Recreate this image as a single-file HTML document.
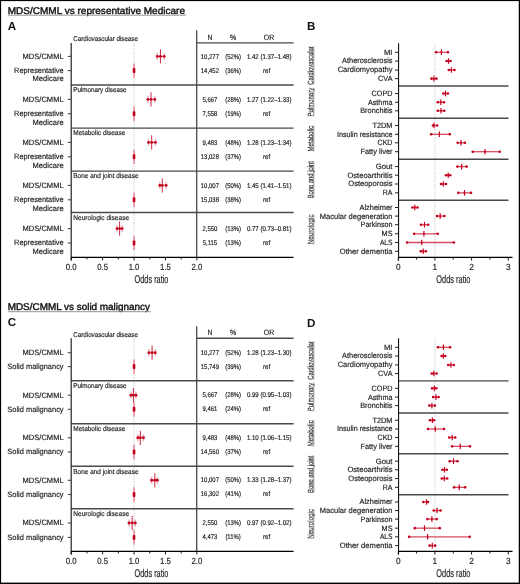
<!DOCTYPE html>
<html><head><meta charset="utf-8"><style>
html,body{margin:0;padding:0;background:#fff;}
svg{display:block;will-change:transform;}
text{font-family:'Liberation Sans', sans-serif;text-rendering:geometricPrecision;}
</style></head><body>
<svg width="520" height="584" viewBox="0 0 520 584">
<rect x="0" y="0" width="520" height="584" fill="#fff"/>
<text x="7.70" y="13.90" font-size="9.8" textLength="177.30" lengthAdjust="spacingAndGlyphs" fill="#111" stroke="#111" stroke-width="0.4">MDS/CMML vs representative Medicare</text>
<line x1="7.70" y1="15.20" x2="185.80" y2="15.20" stroke="#8a8a8a" stroke-width="0.9"/>
<text x="7.80" y="30.20" font-size="11.6" font-weight="bold" fill="#111">A</text>
<line x1="134.05" y1="42.90" x2="134.05" y2="257.20" stroke="#e3e3e3" stroke-width="1.5" stroke-dasharray="1.7 0.9"/>
<line x1="71.00" y1="85.00" x2="293.60" y2="85.00" stroke="#4a4a4a" stroke-width="1.4"/>
<line x1="71.00" y1="128.10" x2="293.60" y2="128.10" stroke="#4a4a4a" stroke-width="1.4"/>
<line x1="71.00" y1="171.10" x2="293.60" y2="171.10" stroke="#4a4a4a" stroke-width="1.4"/>
<line x1="71.00" y1="212.50" x2="293.60" y2="212.50" stroke="#4a4a4a" stroke-width="1.4"/>
<line x1="196.70" y1="42.90" x2="293.60" y2="42.90" stroke="#4a4a4a" stroke-width="1.4"/>
<line x1="196.70" y1="30.30" x2="196.70" y2="257.20" stroke="#4a4a4a" stroke-width="1.3"/>
<line x1="71.20" y1="42.90" x2="71.20" y2="260.40" stroke="#222" stroke-width="1.2"/>
<line x1="71.00" y1="257.30" x2="293.60" y2="257.30" stroke="#000" stroke-width="1.25"/>
<line x1="71.20" y1="257.20" x2="71.20" y2="260.40" stroke="#1a1a1a" stroke-width="1.0"/>
<line x1="86.91" y1="257.20" x2="86.91" y2="259.40" stroke="#1a1a1a" stroke-width="1.0"/>
<line x1="102.62" y1="257.20" x2="102.62" y2="260.40" stroke="#1a1a1a" stroke-width="1.0"/>
<line x1="118.34" y1="257.20" x2="118.34" y2="259.40" stroke="#1a1a1a" stroke-width="1.0"/>
<line x1="134.05" y1="257.20" x2="134.05" y2="260.40" stroke="#1a1a1a" stroke-width="1.0"/>
<line x1="149.76" y1="257.20" x2="149.76" y2="259.40" stroke="#1a1a1a" stroke-width="1.0"/>
<line x1="165.48" y1="257.20" x2="165.48" y2="260.40" stroke="#1a1a1a" stroke-width="1.0"/>
<line x1="181.19" y1="257.20" x2="181.19" y2="259.40" stroke="#1a1a1a" stroke-width="1.0"/>
<line x1="196.90" y1="257.20" x2="196.90" y2="260.40" stroke="#1a1a1a" stroke-width="1.0"/>
<text x="71.20" y="269.50" font-size="8.8" text-anchor="middle" textLength="10.80" lengthAdjust="spacingAndGlyphs" fill="#1e1e1e" stroke="#1e1e1e" stroke-width="0.17">0.0</text>
<text x="102.62" y="269.50" font-size="8.8" text-anchor="middle" textLength="10.80" lengthAdjust="spacingAndGlyphs" fill="#1e1e1e" stroke="#1e1e1e" stroke-width="0.17">0.5</text>
<text x="134.05" y="269.50" font-size="8.8" text-anchor="middle" textLength="10.80" lengthAdjust="spacingAndGlyphs" fill="#1e1e1e" stroke="#1e1e1e" stroke-width="0.17">1.0</text>
<text x="165.48" y="269.50" font-size="8.8" text-anchor="middle" textLength="10.80" lengthAdjust="spacingAndGlyphs" fill="#1e1e1e" stroke="#1e1e1e" stroke-width="0.17">1.5</text>
<text x="196.90" y="269.50" font-size="8.8" text-anchor="middle" textLength="10.80" lengthAdjust="spacingAndGlyphs" fill="#1e1e1e" stroke="#1e1e1e" stroke-width="0.17">2.0</text>
<text x="151.50" y="283.00" font-size="11.2" text-anchor="middle" textLength="33.80" lengthAdjust="spacingAndGlyphs" fill="#1e1e1e" stroke="#1e1e1e" stroke-width="0.17">Odds ratio</text>
<text x="209.85" y="39.60" font-size="7.7" text-anchor="middle" textLength="4.90" lengthAdjust="spacingAndGlyphs" fill="#1e1e1e" stroke="#1e1e1e" stroke-width="0.17">N</text>
<text x="233.10" y="39.60" font-size="7.7" text-anchor="middle" textLength="6.20" lengthAdjust="spacingAndGlyphs" fill="#1e1e1e" stroke="#1e1e1e" stroke-width="0.17">%</text>
<text x="269.00" y="39.60" font-size="7.7" text-anchor="middle" textLength="10.40" lengthAdjust="spacingAndGlyphs" fill="#1e1e1e" stroke="#1e1e1e" stroke-width="0.17">OR</text>
<text x="73.30" y="41.10" font-size="7.0" textLength="64.60" lengthAdjust="spacingAndGlyphs" fill="#1e1e1e" stroke="#1e1e1e" stroke-width="0.17">Cardiovascular disease</text>
<text x="73.30" y="92.40" font-size="7.0" textLength="53.20" lengthAdjust="spacingAndGlyphs" fill="#1e1e1e" stroke="#1e1e1e" stroke-width="0.17">Pulmonary disease</text>
<text x="73.30" y="135.30" font-size="7.0" textLength="52.00" lengthAdjust="spacingAndGlyphs" fill="#1e1e1e" stroke="#1e1e1e" stroke-width="0.17">Metabolic disease</text>
<text x="73.30" y="178.30" font-size="7.0" textLength="65.20" lengthAdjust="spacingAndGlyphs" fill="#1e1e1e" stroke="#1e1e1e" stroke-width="0.17">Bone and joint disease</text>
<text x="73.30" y="219.90" font-size="7.0" textLength="55.80" lengthAdjust="spacingAndGlyphs" fill="#1e1e1e" stroke="#1e1e1e" stroke-width="0.17">Neurologic disease</text>
<line x1="67.80" y1="56.40" x2="71.25" y2="56.40" stroke="#4a4a4a" stroke-width="1.1"/>
<text x="63.60" y="58.70" font-size="7.7" text-anchor="end" textLength="41.00" lengthAdjust="spacingAndGlyphs" fill="#1e1e1e" stroke="#1e1e1e" stroke-width="0.17">MDS/CMML</text>
<text x="209.90" y="58.60" font-size="6.8" text-anchor="middle" textLength="18.20" lengthAdjust="spacingAndGlyphs" fill="#1e1e1e" stroke="#1e1e1e" stroke-width="0.17">10,277</text>
<text x="233.10" y="58.60" font-size="6.8" text-anchor="middle" textLength="15.87" lengthAdjust="spacingAndGlyphs" fill="#1e1e1e" stroke="#1e1e1e" stroke-width="0.17">(52%)</text>
<text x="269.20" y="58.60" font-size="6.8" text-anchor="middle" textLength="44.62" lengthAdjust="spacingAndGlyphs" fill="#1e1e1e" stroke="#1e1e1e" stroke-width="0.17">1.42 (1.37–1.48)</text>
<line x1="157.30" y1="56.40" x2="164.22" y2="56.40" stroke="#c4001f" stroke-width="0.95" stroke-opacity="0.75"/>
<line x1="157.30" y1="52.80" x2="157.30" y2="60.00" stroke="#c4001f" stroke-width="1.4" stroke-opacity="0.3"/>
<circle cx="157.30" cy="56.40" r="1.45" fill="#c4001f"/>
<line x1="164.22" y1="52.80" x2="164.22" y2="60.00" stroke="#c4001f" stroke-width="1.4" stroke-opacity="0.3"/>
<circle cx="164.22" cy="56.40" r="1.45" fill="#c4001f"/>
<line x1="160.45" y1="49.30" x2="160.45" y2="63.50" stroke="#c4001f" stroke-width="1.05" stroke-opacity="0.8"/>
<circle cx="160.45" cy="56.40" r="1.45" fill="#c4001f"/>
<line x1="67.80" y1="70.60" x2="71.25" y2="70.60" stroke="#4a4a4a" stroke-width="1.1"/>
<text x="63.60" y="72.80" font-size="7.7" text-anchor="end" textLength="49.50" lengthAdjust="spacingAndGlyphs" fill="#1e1e1e" stroke="#1e1e1e" stroke-width="0.17">Representative</text>
<text x="63.60" y="81.40" font-size="7.7" text-anchor="end" textLength="31.00" lengthAdjust="spacingAndGlyphs" fill="#1e1e1e" stroke="#1e1e1e" stroke-width="0.17">Medicare</text>
<text x="209.90" y="72.80" font-size="6.8" text-anchor="middle" textLength="18.20" lengthAdjust="spacingAndGlyphs" fill="#1e1e1e" stroke="#1e1e1e" stroke-width="0.17">14,452</text>
<text x="233.10" y="72.80" font-size="6.8" text-anchor="middle" textLength="15.87" lengthAdjust="spacingAndGlyphs" fill="#1e1e1e" stroke="#1e1e1e" stroke-width="0.17">(36%)</text>
<text x="266.60" y="72.80" font-size="6.8" text-anchor="middle" textLength="7.18" lengthAdjust="spacingAndGlyphs" fill="#1e1e1e" stroke="#1e1e1e" stroke-width="0.17">ref</text>
<line x1="134.05" y1="63.40" x2="134.05" y2="77.80" stroke="#e27489" stroke-width="1.3"/>
<rect x="132.75" y="68.10" width="2.6" height="5" rx="0.8" fill="#c4001f"/>
<line x1="67.80" y1="99.40" x2="71.25" y2="99.40" stroke="#4a4a4a" stroke-width="1.1"/>
<text x="63.60" y="101.70" font-size="7.7" text-anchor="end" textLength="41.00" lengthAdjust="spacingAndGlyphs" fill="#1e1e1e" stroke="#1e1e1e" stroke-width="0.17">MDS/CMML</text>
<text x="209.90" y="101.60" font-size="6.8" text-anchor="middle" textLength="14.89" lengthAdjust="spacingAndGlyphs" fill="#1e1e1e" stroke="#1e1e1e" stroke-width="0.17">5,667</text>
<text x="233.10" y="101.60" font-size="6.8" text-anchor="middle" textLength="15.87" lengthAdjust="spacingAndGlyphs" fill="#1e1e1e" stroke="#1e1e1e" stroke-width="0.17">(28%)</text>
<text x="269.20" y="101.60" font-size="6.8" text-anchor="middle" textLength="44.62" lengthAdjust="spacingAndGlyphs" fill="#1e1e1e" stroke="#1e1e1e" stroke-width="0.17">1.27 (1.22–1.33)</text>
<line x1="147.88" y1="99.40" x2="154.79" y2="99.40" stroke="#c4001f" stroke-width="0.95" stroke-opacity="0.75"/>
<line x1="147.88" y1="95.80" x2="147.88" y2="103.00" stroke="#c4001f" stroke-width="1.4" stroke-opacity="0.3"/>
<circle cx="147.88" cy="99.40" r="1.45" fill="#c4001f"/>
<line x1="154.79" y1="95.80" x2="154.79" y2="103.00" stroke="#c4001f" stroke-width="1.4" stroke-opacity="0.3"/>
<circle cx="154.79" cy="99.40" r="1.45" fill="#c4001f"/>
<line x1="151.02" y1="92.30" x2="151.02" y2="106.50" stroke="#c4001f" stroke-width="1.05" stroke-opacity="0.8"/>
<circle cx="151.02" cy="99.40" r="1.45" fill="#c4001f"/>
<line x1="67.80" y1="113.70" x2="71.25" y2="113.70" stroke="#4a4a4a" stroke-width="1.1"/>
<text x="63.60" y="115.90" font-size="7.7" text-anchor="end" textLength="49.50" lengthAdjust="spacingAndGlyphs" fill="#1e1e1e" stroke="#1e1e1e" stroke-width="0.17">Representative</text>
<text x="63.60" y="124.50" font-size="7.7" text-anchor="end" textLength="31.00" lengthAdjust="spacingAndGlyphs" fill="#1e1e1e" stroke="#1e1e1e" stroke-width="0.17">Medicare</text>
<text x="209.90" y="115.90" font-size="6.8" text-anchor="middle" textLength="14.89" lengthAdjust="spacingAndGlyphs" fill="#1e1e1e" stroke="#1e1e1e" stroke-width="0.17">7,558</text>
<text x="233.10" y="115.90" font-size="6.8" text-anchor="middle" textLength="15.87" lengthAdjust="spacingAndGlyphs" fill="#1e1e1e" stroke="#1e1e1e" stroke-width="0.17">(19%)</text>
<text x="266.60" y="115.90" font-size="6.8" text-anchor="middle" textLength="7.18" lengthAdjust="spacingAndGlyphs" fill="#1e1e1e" stroke="#1e1e1e" stroke-width="0.17">ref</text>
<line x1="134.05" y1="106.50" x2="134.05" y2="120.90" stroke="#e27489" stroke-width="1.3"/>
<rect x="132.75" y="111.20" width="2.6" height="5" rx="0.8" fill="#c4001f"/>
<line x1="67.80" y1="142.40" x2="71.25" y2="142.40" stroke="#4a4a4a" stroke-width="1.1"/>
<text x="63.60" y="144.70" font-size="7.7" text-anchor="end" textLength="41.00" lengthAdjust="spacingAndGlyphs" fill="#1e1e1e" stroke="#1e1e1e" stroke-width="0.17">MDS/CMML</text>
<text x="209.90" y="144.60" font-size="6.8" text-anchor="middle" textLength="14.89" lengthAdjust="spacingAndGlyphs" fill="#1e1e1e" stroke="#1e1e1e" stroke-width="0.17">9,483</text>
<text x="233.10" y="144.60" font-size="6.8" text-anchor="middle" textLength="15.87" lengthAdjust="spacingAndGlyphs" fill="#1e1e1e" stroke="#1e1e1e" stroke-width="0.17">(48%)</text>
<text x="269.20" y="144.60" font-size="6.8" text-anchor="middle" textLength="44.62" lengthAdjust="spacingAndGlyphs" fill="#1e1e1e" stroke="#1e1e1e" stroke-width="0.17">1.28 (1.23–1.34)</text>
<line x1="148.51" y1="142.40" x2="155.42" y2="142.40" stroke="#c4001f" stroke-width="0.95" stroke-opacity="0.75"/>
<line x1="148.51" y1="138.80" x2="148.51" y2="146.00" stroke="#c4001f" stroke-width="1.4" stroke-opacity="0.3"/>
<circle cx="148.51" cy="142.40" r="1.45" fill="#c4001f"/>
<line x1="155.42" y1="138.80" x2="155.42" y2="146.00" stroke="#c4001f" stroke-width="1.4" stroke-opacity="0.3"/>
<circle cx="155.42" cy="142.40" r="1.45" fill="#c4001f"/>
<line x1="151.65" y1="135.30" x2="151.65" y2="149.50" stroke="#c4001f" stroke-width="1.05" stroke-opacity="0.8"/>
<circle cx="151.65" cy="142.40" r="1.45" fill="#c4001f"/>
<line x1="67.80" y1="156.80" x2="71.25" y2="156.80" stroke="#4a4a4a" stroke-width="1.1"/>
<text x="63.60" y="159.00" font-size="7.7" text-anchor="end" textLength="49.50" lengthAdjust="spacingAndGlyphs" fill="#1e1e1e" stroke="#1e1e1e" stroke-width="0.17">Representative</text>
<text x="63.60" y="167.60" font-size="7.7" text-anchor="end" textLength="31.00" lengthAdjust="spacingAndGlyphs" fill="#1e1e1e" stroke="#1e1e1e" stroke-width="0.17">Medicare</text>
<text x="209.90" y="159.00" font-size="6.8" text-anchor="middle" textLength="18.20" lengthAdjust="spacingAndGlyphs" fill="#1e1e1e" stroke="#1e1e1e" stroke-width="0.17">13,028</text>
<text x="233.10" y="159.00" font-size="6.8" text-anchor="middle" textLength="15.87" lengthAdjust="spacingAndGlyphs" fill="#1e1e1e" stroke="#1e1e1e" stroke-width="0.17">(37%)</text>
<text x="266.60" y="159.00" font-size="6.8" text-anchor="middle" textLength="7.18" lengthAdjust="spacingAndGlyphs" fill="#1e1e1e" stroke="#1e1e1e" stroke-width="0.17">ref</text>
<line x1="134.05" y1="149.60" x2="134.05" y2="164.00" stroke="#e27489" stroke-width="1.3"/>
<rect x="132.75" y="154.30" width="2.6" height="5" rx="0.8" fill="#c4001f"/>
<line x1="67.80" y1="185.40" x2="71.25" y2="185.40" stroke="#4a4a4a" stroke-width="1.1"/>
<text x="63.60" y="187.70" font-size="7.7" text-anchor="end" textLength="41.00" lengthAdjust="spacingAndGlyphs" fill="#1e1e1e" stroke="#1e1e1e" stroke-width="0.17">MDS/CMML</text>
<text x="209.90" y="187.60" font-size="6.8" text-anchor="middle" textLength="18.20" lengthAdjust="spacingAndGlyphs" fill="#1e1e1e" stroke="#1e1e1e" stroke-width="0.17">10,007</text>
<text x="233.10" y="187.60" font-size="6.8" text-anchor="middle" textLength="15.87" lengthAdjust="spacingAndGlyphs" fill="#1e1e1e" stroke="#1e1e1e" stroke-width="0.17">(50%)</text>
<text x="269.20" y="187.60" font-size="6.8" text-anchor="middle" textLength="44.62" lengthAdjust="spacingAndGlyphs" fill="#1e1e1e" stroke="#1e1e1e" stroke-width="0.17">1.45 (1.41–1.51)</text>
<line x1="159.82" y1="185.40" x2="166.10" y2="185.40" stroke="#c4001f" stroke-width="0.95" stroke-opacity="0.75"/>
<line x1="159.82" y1="181.80" x2="159.82" y2="189.00" stroke="#c4001f" stroke-width="1.4" stroke-opacity="0.3"/>
<circle cx="159.82" cy="185.40" r="1.45" fill="#c4001f"/>
<line x1="166.10" y1="181.80" x2="166.10" y2="189.00" stroke="#c4001f" stroke-width="1.4" stroke-opacity="0.3"/>
<circle cx="166.10" cy="185.40" r="1.45" fill="#c4001f"/>
<line x1="162.33" y1="178.30" x2="162.33" y2="192.50" stroke="#c4001f" stroke-width="1.05" stroke-opacity="0.8"/>
<circle cx="162.33" cy="185.40" r="1.45" fill="#c4001f"/>
<line x1="67.80" y1="199.80" x2="71.25" y2="199.80" stroke="#4a4a4a" stroke-width="1.1"/>
<text x="63.60" y="202.00" font-size="7.7" text-anchor="end" textLength="49.50" lengthAdjust="spacingAndGlyphs" fill="#1e1e1e" stroke="#1e1e1e" stroke-width="0.17">Representative</text>
<text x="63.60" y="210.60" font-size="7.7" text-anchor="end" textLength="31.00" lengthAdjust="spacingAndGlyphs" fill="#1e1e1e" stroke="#1e1e1e" stroke-width="0.17">Medicare</text>
<text x="209.90" y="202.00" font-size="6.8" text-anchor="middle" textLength="18.20" lengthAdjust="spacingAndGlyphs" fill="#1e1e1e" stroke="#1e1e1e" stroke-width="0.17">15,038</text>
<text x="233.10" y="202.00" font-size="6.8" text-anchor="middle" textLength="15.87" lengthAdjust="spacingAndGlyphs" fill="#1e1e1e" stroke="#1e1e1e" stroke-width="0.17">(38%)</text>
<text x="266.60" y="202.00" font-size="6.8" text-anchor="middle" textLength="7.18" lengthAdjust="spacingAndGlyphs" fill="#1e1e1e" stroke="#1e1e1e" stroke-width="0.17">ref</text>
<line x1="134.05" y1="192.60" x2="134.05" y2="207.00" stroke="#e27489" stroke-width="1.3"/>
<rect x="132.75" y="197.30" width="2.6" height="5" rx="0.8" fill="#c4001f"/>
<line x1="67.80" y1="228.60" x2="71.25" y2="228.60" stroke="#4a4a4a" stroke-width="1.1"/>
<text x="63.60" y="230.90" font-size="7.7" text-anchor="end" textLength="41.00" lengthAdjust="spacingAndGlyphs" fill="#1e1e1e" stroke="#1e1e1e" stroke-width="0.17">MDS/CMML</text>
<text x="209.90" y="230.80" font-size="6.8" text-anchor="middle" textLength="14.89" lengthAdjust="spacingAndGlyphs" fill="#1e1e1e" stroke="#1e1e1e" stroke-width="0.17">2,550</text>
<text x="233.10" y="230.80" font-size="6.8" text-anchor="middle" textLength="15.87" lengthAdjust="spacingAndGlyphs" fill="#1e1e1e" stroke="#1e1e1e" stroke-width="0.17">(13%)</text>
<text x="269.20" y="230.80" font-size="6.8" text-anchor="middle" textLength="44.62" lengthAdjust="spacingAndGlyphs" fill="#1e1e1e" stroke="#1e1e1e" stroke-width="0.17">0.77 (0.73–0.81)</text>
<line x1="117.08" y1="228.60" x2="122.11" y2="228.60" stroke="#c4001f" stroke-width="0.95" stroke-opacity="0.75"/>
<line x1="117.08" y1="225.00" x2="117.08" y2="232.20" stroke="#c4001f" stroke-width="1.4" stroke-opacity="0.3"/>
<circle cx="117.08" cy="228.60" r="1.45" fill="#c4001f"/>
<line x1="122.11" y1="225.00" x2="122.11" y2="232.20" stroke="#c4001f" stroke-width="1.4" stroke-opacity="0.3"/>
<circle cx="122.11" cy="228.60" r="1.45" fill="#c4001f"/>
<line x1="119.59" y1="221.50" x2="119.59" y2="235.70" stroke="#c4001f" stroke-width="1.05" stroke-opacity="0.8"/>
<circle cx="119.59" cy="228.60" r="1.45" fill="#c4001f"/>
<line x1="67.80" y1="243.00" x2="71.25" y2="243.00" stroke="#4a4a4a" stroke-width="1.1"/>
<text x="63.60" y="245.20" font-size="7.7" text-anchor="end" textLength="49.50" lengthAdjust="spacingAndGlyphs" fill="#1e1e1e" stroke="#1e1e1e" stroke-width="0.17">Representative</text>
<text x="63.60" y="253.80" font-size="7.7" text-anchor="end" textLength="31.00" lengthAdjust="spacingAndGlyphs" fill="#1e1e1e" stroke="#1e1e1e" stroke-width="0.17">Medicare</text>
<text x="209.90" y="245.20" font-size="6.8" text-anchor="middle" textLength="14.45" lengthAdjust="spacingAndGlyphs" fill="#1e1e1e" stroke="#1e1e1e" stroke-width="0.17">5,115</text>
<text x="233.10" y="245.20" font-size="6.8" text-anchor="middle" textLength="15.87" lengthAdjust="spacingAndGlyphs" fill="#1e1e1e" stroke="#1e1e1e" stroke-width="0.17">(13%)</text>
<text x="266.60" y="245.20" font-size="6.8" text-anchor="middle" textLength="7.18" lengthAdjust="spacingAndGlyphs" fill="#1e1e1e" stroke="#1e1e1e" stroke-width="0.17">ref</text>
<line x1="134.05" y1="235.80" x2="134.05" y2="250.20" stroke="#e27489" stroke-width="1.3"/>
<rect x="132.75" y="240.50" width="2.6" height="5" rx="0.8" fill="#c4001f"/>
<text x="7.70" y="310.40" font-size="9.8" textLength="142.30" lengthAdjust="spacingAndGlyphs" fill="#111" stroke="#111" stroke-width="0.4">MDS/CMML vs solid malignancy</text>
<line x1="7.70" y1="311.70" x2="150.80" y2="311.70" stroke="#8a8a8a" stroke-width="0.9"/>
<text x="7.80" y="326.20" font-size="11.6" font-weight="bold" fill="#111">C</text>
<line x1="134.05" y1="338.30" x2="134.05" y2="551.20" stroke="#e3e3e3" stroke-width="1.5" stroke-dasharray="1.7 0.9"/>
<line x1="71.00" y1="380.70" x2="293.60" y2="380.70" stroke="#4a4a4a" stroke-width="1.4"/>
<line x1="71.00" y1="423.70" x2="293.60" y2="423.70" stroke="#4a4a4a" stroke-width="1.4"/>
<line x1="71.00" y1="466.30" x2="293.60" y2="466.30" stroke="#4a4a4a" stroke-width="1.4"/>
<line x1="71.00" y1="508.70" x2="293.60" y2="508.70" stroke="#4a4a4a" stroke-width="1.4"/>
<line x1="196.70" y1="338.30" x2="293.60" y2="338.30" stroke="#4a4a4a" stroke-width="1.4"/>
<line x1="196.70" y1="326.30" x2="196.70" y2="551.20" stroke="#4a4a4a" stroke-width="1.3"/>
<line x1="71.20" y1="338.30" x2="71.20" y2="554.40" stroke="#222" stroke-width="1.2"/>
<line x1="71.00" y1="551.30" x2="293.60" y2="551.30" stroke="#000" stroke-width="1.25"/>
<line x1="71.20" y1="551.20" x2="71.20" y2="554.40" stroke="#1a1a1a" stroke-width="1.0"/>
<line x1="86.91" y1="551.20" x2="86.91" y2="553.40" stroke="#1a1a1a" stroke-width="1.0"/>
<line x1="102.62" y1="551.20" x2="102.62" y2="554.40" stroke="#1a1a1a" stroke-width="1.0"/>
<line x1="118.34" y1="551.20" x2="118.34" y2="553.40" stroke="#1a1a1a" stroke-width="1.0"/>
<line x1="134.05" y1="551.20" x2="134.05" y2="554.40" stroke="#1a1a1a" stroke-width="1.0"/>
<line x1="149.76" y1="551.20" x2="149.76" y2="553.40" stroke="#1a1a1a" stroke-width="1.0"/>
<line x1="165.48" y1="551.20" x2="165.48" y2="554.40" stroke="#1a1a1a" stroke-width="1.0"/>
<line x1="181.19" y1="551.20" x2="181.19" y2="553.40" stroke="#1a1a1a" stroke-width="1.0"/>
<line x1="196.90" y1="551.20" x2="196.90" y2="554.40" stroke="#1a1a1a" stroke-width="1.0"/>
<text x="71.20" y="563.50" font-size="8.8" text-anchor="middle" textLength="10.80" lengthAdjust="spacingAndGlyphs" fill="#1e1e1e" stroke="#1e1e1e" stroke-width="0.17">0.0</text>
<text x="102.62" y="563.50" font-size="8.8" text-anchor="middle" textLength="10.80" lengthAdjust="spacingAndGlyphs" fill="#1e1e1e" stroke="#1e1e1e" stroke-width="0.17">0.5</text>
<text x="134.05" y="563.50" font-size="8.8" text-anchor="middle" textLength="10.80" lengthAdjust="spacingAndGlyphs" fill="#1e1e1e" stroke="#1e1e1e" stroke-width="0.17">1.0</text>
<text x="165.48" y="563.50" font-size="8.8" text-anchor="middle" textLength="10.80" lengthAdjust="spacingAndGlyphs" fill="#1e1e1e" stroke="#1e1e1e" stroke-width="0.17">1.5</text>
<text x="196.90" y="563.50" font-size="8.8" text-anchor="middle" textLength="10.80" lengthAdjust="spacingAndGlyphs" fill="#1e1e1e" stroke="#1e1e1e" stroke-width="0.17">2.0</text>
<text x="151.50" y="577.00" font-size="11.2" text-anchor="middle" textLength="33.80" lengthAdjust="spacingAndGlyphs" fill="#1e1e1e" stroke="#1e1e1e" stroke-width="0.17">Odds ratio</text>
<text x="209.85" y="335.00" font-size="7.7" text-anchor="middle" textLength="4.90" lengthAdjust="spacingAndGlyphs" fill="#1e1e1e" stroke="#1e1e1e" stroke-width="0.17">N</text>
<text x="233.10" y="335.00" font-size="7.7" text-anchor="middle" textLength="6.20" lengthAdjust="spacingAndGlyphs" fill="#1e1e1e" stroke="#1e1e1e" stroke-width="0.17">%</text>
<text x="269.00" y="335.00" font-size="7.7" text-anchor="middle" textLength="10.40" lengthAdjust="spacingAndGlyphs" fill="#1e1e1e" stroke="#1e1e1e" stroke-width="0.17">OR</text>
<text x="73.30" y="336.80" font-size="7.0" textLength="64.60" lengthAdjust="spacingAndGlyphs" fill="#1e1e1e" stroke="#1e1e1e" stroke-width="0.17">Cardiovascular disease</text>
<text x="73.30" y="388.00" font-size="7.0" textLength="53.20" lengthAdjust="spacingAndGlyphs" fill="#1e1e1e" stroke="#1e1e1e" stroke-width="0.17">Pulmonary disease</text>
<text x="73.30" y="430.90" font-size="7.0" textLength="52.00" lengthAdjust="spacingAndGlyphs" fill="#1e1e1e" stroke="#1e1e1e" stroke-width="0.17">Metabolic disease</text>
<text x="73.30" y="473.60" font-size="7.0" textLength="65.20" lengthAdjust="spacingAndGlyphs" fill="#1e1e1e" stroke="#1e1e1e" stroke-width="0.17">Bone and joint disease</text>
<text x="73.30" y="516.00" font-size="7.0" textLength="55.80" lengthAdjust="spacingAndGlyphs" fill="#1e1e1e" stroke="#1e1e1e" stroke-width="0.17">Neurologic disease</text>
<line x1="67.80" y1="352.70" x2="71.25" y2="352.70" stroke="#4a4a4a" stroke-width="1.1"/>
<text x="63.60" y="355.00" font-size="7.7" text-anchor="end" textLength="41.00" lengthAdjust="spacingAndGlyphs" fill="#1e1e1e" stroke="#1e1e1e" stroke-width="0.17">MDS/CMML</text>
<text x="209.90" y="354.65" font-size="6.8" text-anchor="middle" textLength="18.20" lengthAdjust="spacingAndGlyphs" fill="#1e1e1e" stroke="#1e1e1e" stroke-width="0.17">10,277</text>
<text x="233.10" y="354.65" font-size="6.8" text-anchor="middle" textLength="15.87" lengthAdjust="spacingAndGlyphs" fill="#1e1e1e" stroke="#1e1e1e" stroke-width="0.17">(52%)</text>
<text x="269.20" y="354.65" font-size="6.8" text-anchor="middle" textLength="44.62" lengthAdjust="spacingAndGlyphs" fill="#1e1e1e" stroke="#1e1e1e" stroke-width="0.17">1.28 (1.23–1.30)</text>
<line x1="148.88" y1="352.70" x2="155.29" y2="352.70" stroke="#c4001f" stroke-width="0.95" stroke-opacity="0.75"/>
<line x1="148.88" y1="349.10" x2="148.88" y2="356.30" stroke="#c4001f" stroke-width="1.4" stroke-opacity="0.3"/>
<circle cx="148.88" cy="352.70" r="1.45" fill="#c4001f"/>
<line x1="155.29" y1="349.10" x2="155.29" y2="356.30" stroke="#c4001f" stroke-width="1.4" stroke-opacity="0.3"/>
<circle cx="155.29" cy="352.70" r="1.45" fill="#c4001f"/>
<line x1="152.09" y1="345.60" x2="152.09" y2="359.80" stroke="#c4001f" stroke-width="1.05" stroke-opacity="0.8"/>
<circle cx="152.09" cy="352.70" r="1.45" fill="#c4001f"/>
<line x1="67.80" y1="366.60" x2="71.25" y2="366.60" stroke="#4a4a4a" stroke-width="1.1"/>
<text x="63.60" y="368.90" font-size="7.7" text-anchor="end" textLength="56.30" lengthAdjust="spacingAndGlyphs" fill="#1e1e1e" stroke="#1e1e1e" stroke-width="0.17">Solid malignancy</text>
<text x="209.90" y="368.55" font-size="6.8" text-anchor="middle" textLength="18.20" lengthAdjust="spacingAndGlyphs" fill="#1e1e1e" stroke="#1e1e1e" stroke-width="0.17">15,749</text>
<text x="233.10" y="368.55" font-size="6.8" text-anchor="middle" textLength="15.87" lengthAdjust="spacingAndGlyphs" fill="#1e1e1e" stroke="#1e1e1e" stroke-width="0.17">(39%)</text>
<text x="266.60" y="368.55" font-size="6.8" text-anchor="middle" textLength="7.18" lengthAdjust="spacingAndGlyphs" fill="#1e1e1e" stroke="#1e1e1e" stroke-width="0.17">ref</text>
<line x1="134.05" y1="359.40" x2="134.05" y2="373.80" stroke="#e27489" stroke-width="1.3"/>
<rect x="132.75" y="364.10" width="2.6" height="5" rx="0.8" fill="#c4001f"/>
<line x1="67.80" y1="395.20" x2="71.25" y2="395.20" stroke="#4a4a4a" stroke-width="1.1"/>
<text x="63.60" y="397.50" font-size="7.7" text-anchor="end" textLength="41.00" lengthAdjust="spacingAndGlyphs" fill="#1e1e1e" stroke="#1e1e1e" stroke-width="0.17">MDS/CMML</text>
<text x="209.90" y="397.15" font-size="6.8" text-anchor="middle" textLength="14.89" lengthAdjust="spacingAndGlyphs" fill="#1e1e1e" stroke="#1e1e1e" stroke-width="0.17">5,667</text>
<text x="233.10" y="397.15" font-size="6.8" text-anchor="middle" textLength="15.87" lengthAdjust="spacingAndGlyphs" fill="#1e1e1e" stroke="#1e1e1e" stroke-width="0.17">(28%)</text>
<text x="269.20" y="397.15" font-size="6.8" text-anchor="middle" textLength="44.62" lengthAdjust="spacingAndGlyphs" fill="#1e1e1e" stroke="#1e1e1e" stroke-width="0.17">0.99 (0.95–1.03)</text>
<line x1="130.91" y1="395.20" x2="135.94" y2="395.20" stroke="#c4001f" stroke-width="0.95" stroke-opacity="0.75"/>
<line x1="130.91" y1="391.60" x2="130.91" y2="398.80" stroke="#c4001f" stroke-width="1.4" stroke-opacity="0.3"/>
<circle cx="130.91" cy="395.20" r="1.45" fill="#c4001f"/>
<line x1="135.94" y1="391.60" x2="135.94" y2="398.80" stroke="#c4001f" stroke-width="1.4" stroke-opacity="0.3"/>
<circle cx="135.94" cy="395.20" r="1.45" fill="#c4001f"/>
<line x1="133.42" y1="388.10" x2="133.42" y2="402.30" stroke="#c4001f" stroke-width="1.05" stroke-opacity="0.8"/>
<circle cx="133.42" cy="395.20" r="1.45" fill="#c4001f"/>
<line x1="67.80" y1="409.30" x2="71.25" y2="409.30" stroke="#4a4a4a" stroke-width="1.1"/>
<text x="63.60" y="411.60" font-size="7.7" text-anchor="end" textLength="56.30" lengthAdjust="spacingAndGlyphs" fill="#1e1e1e" stroke="#1e1e1e" stroke-width="0.17">Solid malignancy</text>
<text x="209.90" y="411.25" font-size="6.8" text-anchor="middle" textLength="14.89" lengthAdjust="spacingAndGlyphs" fill="#1e1e1e" stroke="#1e1e1e" stroke-width="0.17">9,461</text>
<text x="233.10" y="411.25" font-size="6.8" text-anchor="middle" textLength="15.87" lengthAdjust="spacingAndGlyphs" fill="#1e1e1e" stroke="#1e1e1e" stroke-width="0.17">(24%)</text>
<text x="266.60" y="411.25" font-size="6.8" text-anchor="middle" textLength="7.18" lengthAdjust="spacingAndGlyphs" fill="#1e1e1e" stroke="#1e1e1e" stroke-width="0.17">ref</text>
<line x1="134.05" y1="402.10" x2="134.05" y2="416.50" stroke="#e27489" stroke-width="1.3"/>
<rect x="132.75" y="406.80" width="2.6" height="5" rx="0.8" fill="#c4001f"/>
<line x1="67.80" y1="437.80" x2="71.25" y2="437.80" stroke="#4a4a4a" stroke-width="1.1"/>
<text x="63.60" y="440.10" font-size="7.7" text-anchor="end" textLength="41.00" lengthAdjust="spacingAndGlyphs" fill="#1e1e1e" stroke="#1e1e1e" stroke-width="0.17">MDS/CMML</text>
<text x="209.90" y="439.75" font-size="6.8" text-anchor="middle" textLength="14.89" lengthAdjust="spacingAndGlyphs" fill="#1e1e1e" stroke="#1e1e1e" stroke-width="0.17">9,483</text>
<text x="233.10" y="439.75" font-size="6.8" text-anchor="middle" textLength="15.87" lengthAdjust="spacingAndGlyphs" fill="#1e1e1e" stroke="#1e1e1e" stroke-width="0.17">(48%)</text>
<text x="269.20" y="439.75" font-size="6.8" text-anchor="middle" textLength="44.62" lengthAdjust="spacingAndGlyphs" fill="#1e1e1e" stroke="#1e1e1e" stroke-width="0.17">1.10 (1.06–1.15)</text>
<line x1="137.82" y1="437.80" x2="143.48" y2="437.80" stroke="#c4001f" stroke-width="0.95" stroke-opacity="0.75"/>
<line x1="137.82" y1="434.20" x2="137.82" y2="441.40" stroke="#c4001f" stroke-width="1.4" stroke-opacity="0.3"/>
<circle cx="137.82" cy="437.80" r="1.45" fill="#c4001f"/>
<line x1="143.48" y1="434.20" x2="143.48" y2="441.40" stroke="#c4001f" stroke-width="1.4" stroke-opacity="0.3"/>
<circle cx="143.48" cy="437.80" r="1.45" fill="#c4001f"/>
<line x1="140.34" y1="430.70" x2="140.34" y2="444.90" stroke="#c4001f" stroke-width="1.05" stroke-opacity="0.8"/>
<circle cx="140.34" cy="437.80" r="1.45" fill="#c4001f"/>
<line x1="67.80" y1="452.00" x2="71.25" y2="452.00" stroke="#4a4a4a" stroke-width="1.1"/>
<text x="63.60" y="454.30" font-size="7.7" text-anchor="end" textLength="56.30" lengthAdjust="spacingAndGlyphs" fill="#1e1e1e" stroke="#1e1e1e" stroke-width="0.17">Solid malignancy</text>
<text x="209.90" y="453.95" font-size="6.8" text-anchor="middle" textLength="18.20" lengthAdjust="spacingAndGlyphs" fill="#1e1e1e" stroke="#1e1e1e" stroke-width="0.17">14,560</text>
<text x="233.10" y="453.95" font-size="6.8" text-anchor="middle" textLength="15.87" lengthAdjust="spacingAndGlyphs" fill="#1e1e1e" stroke="#1e1e1e" stroke-width="0.17">(37%)</text>
<text x="266.60" y="453.95" font-size="6.8" text-anchor="middle" textLength="7.18" lengthAdjust="spacingAndGlyphs" fill="#1e1e1e" stroke="#1e1e1e" stroke-width="0.17">ref</text>
<line x1="134.05" y1="444.80" x2="134.05" y2="459.20" stroke="#e27489" stroke-width="1.3"/>
<rect x="132.75" y="449.50" width="2.6" height="5" rx="0.8" fill="#c4001f"/>
<line x1="67.80" y1="480.30" x2="71.25" y2="480.30" stroke="#4a4a4a" stroke-width="1.1"/>
<text x="63.60" y="482.60" font-size="7.7" text-anchor="end" textLength="41.00" lengthAdjust="spacingAndGlyphs" fill="#1e1e1e" stroke="#1e1e1e" stroke-width="0.17">MDS/CMML</text>
<text x="209.90" y="482.25" font-size="6.8" text-anchor="middle" textLength="18.20" lengthAdjust="spacingAndGlyphs" fill="#1e1e1e" stroke="#1e1e1e" stroke-width="0.17">10,007</text>
<text x="233.10" y="482.25" font-size="6.8" text-anchor="middle" textLength="15.87" lengthAdjust="spacingAndGlyphs" fill="#1e1e1e" stroke="#1e1e1e" stroke-width="0.17">(50%)</text>
<text x="269.20" y="482.25" font-size="6.8" text-anchor="middle" textLength="44.62" lengthAdjust="spacingAndGlyphs" fill="#1e1e1e" stroke="#1e1e1e" stroke-width="0.17">1.33 (1.28–1.37)</text>
<line x1="151.65" y1="480.30" x2="157.30" y2="480.30" stroke="#c4001f" stroke-width="0.95" stroke-opacity="0.75"/>
<line x1="151.65" y1="476.70" x2="151.65" y2="483.90" stroke="#c4001f" stroke-width="1.4" stroke-opacity="0.3"/>
<circle cx="151.65" cy="480.30" r="1.45" fill="#c4001f"/>
<line x1="157.30" y1="476.70" x2="157.30" y2="483.90" stroke="#c4001f" stroke-width="1.4" stroke-opacity="0.3"/>
<circle cx="157.30" cy="480.30" r="1.45" fill="#c4001f"/>
<line x1="154.79" y1="473.20" x2="154.79" y2="487.40" stroke="#c4001f" stroke-width="1.05" stroke-opacity="0.8"/>
<circle cx="154.79" cy="480.30" r="1.45" fill="#c4001f"/>
<line x1="67.80" y1="494.50" x2="71.25" y2="494.50" stroke="#4a4a4a" stroke-width="1.1"/>
<text x="63.60" y="496.80" font-size="7.7" text-anchor="end" textLength="56.30" lengthAdjust="spacingAndGlyphs" fill="#1e1e1e" stroke="#1e1e1e" stroke-width="0.17">Solid malignancy</text>
<text x="209.90" y="496.45" font-size="6.8" text-anchor="middle" textLength="18.20" lengthAdjust="spacingAndGlyphs" fill="#1e1e1e" stroke="#1e1e1e" stroke-width="0.17">16,302</text>
<text x="233.10" y="496.45" font-size="6.8" text-anchor="middle" textLength="15.87" lengthAdjust="spacingAndGlyphs" fill="#1e1e1e" stroke="#1e1e1e" stroke-width="0.17">(41%)</text>
<text x="266.60" y="496.45" font-size="6.8" text-anchor="middle" textLength="7.18" lengthAdjust="spacingAndGlyphs" fill="#1e1e1e" stroke="#1e1e1e" stroke-width="0.17">ref</text>
<line x1="134.05" y1="487.30" x2="134.05" y2="501.70" stroke="#e27489" stroke-width="1.3"/>
<rect x="132.75" y="492.00" width="2.6" height="5" rx="0.8" fill="#c4001f"/>
<line x1="67.80" y1="523.00" x2="71.25" y2="523.00" stroke="#4a4a4a" stroke-width="1.1"/>
<text x="63.60" y="525.30" font-size="7.7" text-anchor="end" textLength="41.00" lengthAdjust="spacingAndGlyphs" fill="#1e1e1e" stroke="#1e1e1e" stroke-width="0.17">MDS/CMML</text>
<text x="209.90" y="524.95" font-size="6.8" text-anchor="middle" textLength="14.89" lengthAdjust="spacingAndGlyphs" fill="#1e1e1e" stroke="#1e1e1e" stroke-width="0.17">2,550</text>
<text x="233.10" y="524.95" font-size="6.8" text-anchor="middle" textLength="15.87" lengthAdjust="spacingAndGlyphs" fill="#1e1e1e" stroke="#1e1e1e" stroke-width="0.17">(13%)</text>
<text x="269.20" y="524.95" font-size="6.8" text-anchor="middle" textLength="44.62" lengthAdjust="spacingAndGlyphs" fill="#1e1e1e" stroke="#1e1e1e" stroke-width="0.17">0.97 (0.92–1.02)</text>
<line x1="129.02" y1="523.00" x2="135.31" y2="523.00" stroke="#c4001f" stroke-width="0.95" stroke-opacity="0.75"/>
<line x1="129.02" y1="519.40" x2="129.02" y2="526.60" stroke="#c4001f" stroke-width="1.4" stroke-opacity="0.3"/>
<circle cx="129.02" cy="523.00" r="1.45" fill="#c4001f"/>
<line x1="135.31" y1="519.40" x2="135.31" y2="526.60" stroke="#c4001f" stroke-width="1.4" stroke-opacity="0.3"/>
<circle cx="135.31" cy="523.00" r="1.45" fill="#c4001f"/>
<line x1="132.16" y1="515.90" x2="132.16" y2="530.10" stroke="#c4001f" stroke-width="1.05" stroke-opacity="0.8"/>
<circle cx="132.16" cy="523.00" r="1.45" fill="#c4001f"/>
<line x1="67.80" y1="537.40" x2="71.25" y2="537.40" stroke="#4a4a4a" stroke-width="1.1"/>
<text x="63.60" y="539.70" font-size="7.7" text-anchor="end" textLength="56.30" lengthAdjust="spacingAndGlyphs" fill="#1e1e1e" stroke="#1e1e1e" stroke-width="0.17">Solid malignancy</text>
<text x="209.90" y="539.35" font-size="6.8" text-anchor="middle" textLength="14.89" lengthAdjust="spacingAndGlyphs" fill="#1e1e1e" stroke="#1e1e1e" stroke-width="0.17">4,473</text>
<text x="233.10" y="539.35" font-size="6.8" text-anchor="middle" textLength="15.43" lengthAdjust="spacingAndGlyphs" fill="#1e1e1e" stroke="#1e1e1e" stroke-width="0.17">(11%)</text>
<text x="266.60" y="539.35" font-size="6.8" text-anchor="middle" textLength="7.18" lengthAdjust="spacingAndGlyphs" fill="#1e1e1e" stroke="#1e1e1e" stroke-width="0.17">ref</text>
<line x1="134.05" y1="530.20" x2="134.05" y2="544.60" stroke="#e27489" stroke-width="1.3"/>
<rect x="132.75" y="534.90" width="2.6" height="5" rx="0.8" fill="#c4001f"/>
<text x="307.10" y="30.30" font-size="11.6" font-weight="bold" fill="#111">B</text>
<line x1="434.92" y1="43.30" x2="434.92" y2="257.35" stroke="#e3e3e3" stroke-width="1.5" stroke-dasharray="1.7 0.9"/>
<line x1="398.00" y1="86.00" x2="508.50" y2="86.00" stroke="#4a4a4a" stroke-width="1.4"/>
<line x1="398.00" y1="118.30" x2="508.50" y2="118.30" stroke="#4a4a4a" stroke-width="1.4"/>
<line x1="398.00" y1="159.20" x2="508.50" y2="159.20" stroke="#4a4a4a" stroke-width="1.4"/>
<line x1="398.00" y1="200.30" x2="508.50" y2="200.30" stroke="#4a4a4a" stroke-width="1.4"/>
<line x1="398.55" y1="43.30" x2="398.55" y2="260.55" stroke="#111" stroke-width="1.1"/>
<line x1="398.00" y1="257.45" x2="512.50" y2="257.45" stroke="#000" stroke-width="1.25"/>
<line x1="398.25" y1="257.35" x2="398.25" y2="260.55" stroke="#1a1a1a" stroke-width="1.0"/>
<line x1="416.58" y1="257.35" x2="416.58" y2="259.55" stroke="#1a1a1a" stroke-width="1.0"/>
<line x1="434.92" y1="257.35" x2="434.92" y2="260.55" stroke="#1a1a1a" stroke-width="1.0"/>
<line x1="453.25" y1="257.35" x2="453.25" y2="259.55" stroke="#1a1a1a" stroke-width="1.0"/>
<line x1="471.59" y1="257.35" x2="471.59" y2="260.55" stroke="#1a1a1a" stroke-width="1.0"/>
<line x1="489.93" y1="257.35" x2="489.93" y2="259.55" stroke="#1a1a1a" stroke-width="1.0"/>
<line x1="508.26" y1="257.35" x2="508.26" y2="260.55" stroke="#1a1a1a" stroke-width="1.0"/>
<text x="398.25" y="269.65" font-size="8.8" text-anchor="middle" textLength="4.60" lengthAdjust="spacingAndGlyphs" fill="#1e1e1e" stroke="#1e1e1e" stroke-width="0.17">0</text>
<text x="434.92" y="269.65" font-size="8.8" text-anchor="middle" textLength="4.60" lengthAdjust="spacingAndGlyphs" fill="#1e1e1e" stroke="#1e1e1e" stroke-width="0.17">1</text>
<text x="471.59" y="269.65" font-size="8.8" text-anchor="middle" textLength="4.60" lengthAdjust="spacingAndGlyphs" fill="#1e1e1e" stroke="#1e1e1e" stroke-width="0.17">2</text>
<text x="508.26" y="269.65" font-size="8.8" text-anchor="middle" textLength="4.60" lengthAdjust="spacingAndGlyphs" fill="#1e1e1e" stroke="#1e1e1e" stroke-width="0.17">3</text>
<text x="453.40" y="283.15" font-size="11.2" text-anchor="middle" textLength="34.20" lengthAdjust="spacingAndGlyphs" fill="#1e1e1e" stroke="#1e1e1e" stroke-width="0.17">Odds ratio</text>
<line x1="395.00" y1="52.30" x2="398.50" y2="52.30" stroke="#222" stroke-width="1.0"/>
<text x="392.50" y="54.70" font-size="7.7" text-anchor="end" textLength="8.50" lengthAdjust="spacingAndGlyphs" fill="#1e1e1e" stroke="#1e1e1e" stroke-width="0.17">MI</text>
<line x1="436.10" y1="52.30" x2="447.90" y2="52.30" stroke="#c4001f" stroke-width="1.3" stroke-opacity="0.7"/>
<circle cx="436.10" cy="52.30" r="1.3" fill="#c4001f"/>
<circle cx="447.90" cy="52.30" r="1.3" fill="#c4001f"/>
<line x1="441.40" y1="49.50" x2="441.40" y2="55.10" stroke="#c4001f" stroke-width="1.15"/>
<ellipse cx="441.40" cy="52.30" rx="0.9" ry="1.0" fill="#c4001f"/>
<line x1="395.00" y1="61.05" x2="398.50" y2="61.05" stroke="#222" stroke-width="1.0"/>
<text x="392.50" y="63.45" font-size="7.7" text-anchor="end" textLength="50.40" lengthAdjust="spacingAndGlyphs" fill="#1e1e1e" stroke="#1e1e1e" stroke-width="0.17">Atherosclerosis</text>
<line x1="446.60" y1="61.05" x2="450.50" y2="61.05" stroke="#c4001f" stroke-width="1.3" stroke-opacity="0.7"/>
<circle cx="446.60" cy="61.05" r="1.3" fill="#c4001f"/>
<circle cx="450.50" cy="61.05" r="1.3" fill="#c4001f"/>
<line x1="448.50" y1="58.25" x2="448.50" y2="63.85" stroke="#c4001f" stroke-width="1.15"/>
<ellipse cx="448.50" cy="61.05" rx="0.9" ry="1.0" fill="#c4001f"/>
<line x1="395.00" y1="70.00" x2="398.50" y2="70.00" stroke="#222" stroke-width="1.0"/>
<text x="392.50" y="72.40" font-size="7.7" text-anchor="end" textLength="54.80" lengthAdjust="spacingAndGlyphs" fill="#1e1e1e" stroke="#1e1e1e" stroke-width="0.17">Cardiomyopathy</text>
<line x1="448.80" y1="70.00" x2="454.50" y2="70.00" stroke="#c4001f" stroke-width="1.3" stroke-opacity="0.7"/>
<circle cx="448.80" cy="70.00" r="1.3" fill="#c4001f"/>
<circle cx="454.50" cy="70.00" r="1.3" fill="#c4001f"/>
<line x1="451.40" y1="67.20" x2="451.40" y2="72.80" stroke="#c4001f" stroke-width="1.15"/>
<ellipse cx="451.40" cy="70.00" rx="0.9" ry="1.0" fill="#c4001f"/>
<line x1="395.00" y1="78.65" x2="398.50" y2="78.65" stroke="#222" stroke-width="1.0"/>
<text x="392.50" y="81.05" font-size="7.7" text-anchor="end" textLength="14.40" lengthAdjust="spacingAndGlyphs" fill="#1e1e1e" stroke="#1e1e1e" stroke-width="0.17">CVA</text>
<line x1="431.50" y1="78.65" x2="436.40" y2="78.65" stroke="#c4001f" stroke-width="1.3" stroke-opacity="0.7"/>
<circle cx="431.50" cy="78.65" r="1.3" fill="#c4001f"/>
<circle cx="436.40" cy="78.65" r="1.3" fill="#c4001f"/>
<line x1="433.90" y1="75.85" x2="433.90" y2="81.45" stroke="#c4001f" stroke-width="1.15"/>
<ellipse cx="433.90" cy="78.65" rx="0.9" ry="1.0" fill="#c4001f"/>
<line x1="395.00" y1="93.50" x2="398.50" y2="93.50" stroke="#222" stroke-width="1.0"/>
<text x="392.50" y="95.90" font-size="7.7" text-anchor="end" textLength="20.90" lengthAdjust="spacingAndGlyphs" fill="#1e1e1e" stroke="#1e1e1e" stroke-width="0.17">COPD</text>
<line x1="443.30" y1="93.50" x2="447.90" y2="93.50" stroke="#c4001f" stroke-width="1.3" stroke-opacity="0.7"/>
<circle cx="443.30" cy="93.50" r="1.3" fill="#c4001f"/>
<circle cx="447.90" cy="93.50" r="1.3" fill="#c4001f"/>
<line x1="445.50" y1="90.70" x2="445.50" y2="96.30" stroke="#c4001f" stroke-width="1.15"/>
<ellipse cx="445.50" cy="93.50" rx="0.9" ry="1.0" fill="#c4001f"/>
<line x1="395.00" y1="102.30" x2="398.50" y2="102.30" stroke="#222" stroke-width="1.0"/>
<text x="392.50" y="104.70" font-size="7.7" text-anchor="end" textLength="24.60" lengthAdjust="spacingAndGlyphs" fill="#1e1e1e" stroke="#1e1e1e" stroke-width="0.17">Asthma</text>
<line x1="437.80" y1="102.30" x2="444.00" y2="102.30" stroke="#c4001f" stroke-width="1.3" stroke-opacity="0.7"/>
<circle cx="437.80" cy="102.30" r="1.3" fill="#c4001f"/>
<circle cx="444.00" cy="102.30" r="1.3" fill="#c4001f"/>
<line x1="440.80" y1="99.50" x2="440.80" y2="105.10" stroke="#c4001f" stroke-width="1.15"/>
<ellipse cx="440.80" cy="102.30" rx="0.9" ry="1.0" fill="#c4001f"/>
<line x1="395.00" y1="110.80" x2="398.50" y2="110.80" stroke="#222" stroke-width="1.0"/>
<text x="392.50" y="113.20" font-size="7.7" text-anchor="end" textLength="32.30" lengthAdjust="spacingAndGlyphs" fill="#1e1e1e" stroke="#1e1e1e" stroke-width="0.17">Bronchitis</text>
<line x1="437.80" y1="110.80" x2="444.30" y2="110.80" stroke="#c4001f" stroke-width="1.3" stroke-opacity="0.7"/>
<circle cx="437.80" cy="110.80" r="1.3" fill="#c4001f"/>
<circle cx="444.30" cy="110.80" r="1.3" fill="#c4001f"/>
<line x1="441.00" y1="108.00" x2="441.00" y2="113.60" stroke="#c4001f" stroke-width="1.15"/>
<ellipse cx="441.00" cy="110.80" rx="0.9" ry="1.0" fill="#c4001f"/>
<line x1="395.00" y1="125.50" x2="398.50" y2="125.50" stroke="#222" stroke-width="1.0"/>
<text x="392.50" y="127.90" font-size="7.7" text-anchor="end" textLength="20.10" lengthAdjust="spacingAndGlyphs" fill="#1e1e1e" stroke="#1e1e1e" stroke-width="0.17">T2DM</text>
<line x1="433.00" y1="125.50" x2="437.10" y2="125.50" stroke="#c4001f" stroke-width="1.3" stroke-opacity="0.7"/>
<circle cx="433.00" cy="125.50" r="1.3" fill="#c4001f"/>
<circle cx="437.10" cy="125.50" r="1.3" fill="#c4001f"/>
<line x1="434.00" y1="122.70" x2="434.00" y2="128.30" stroke="#c4001f" stroke-width="1.15"/>
<ellipse cx="434.00" cy="125.50" rx="0.9" ry="1.0" fill="#c4001f"/>
<line x1="395.00" y1="134.30" x2="398.50" y2="134.30" stroke="#222" stroke-width="1.0"/>
<text x="392.50" y="136.70" font-size="7.7" text-anchor="end" textLength="55.60" lengthAdjust="spacingAndGlyphs" fill="#1e1e1e" stroke="#1e1e1e" stroke-width="0.17">Insulin resistance</text>
<line x1="431.20" y1="134.30" x2="449.80" y2="134.30" stroke="#c4001f" stroke-width="1.3" stroke-opacity="0.7"/>
<circle cx="431.20" cy="134.30" r="1.3" fill="#c4001f"/>
<circle cx="449.80" cy="134.30" r="1.3" fill="#c4001f"/>
<line x1="439.40" y1="131.50" x2="439.40" y2="137.10" stroke="#c4001f" stroke-width="1.15"/>
<ellipse cx="439.40" cy="134.30" rx="0.9" ry="1.0" fill="#c4001f"/>
<line x1="395.00" y1="142.80" x2="398.50" y2="142.80" stroke="#222" stroke-width="1.0"/>
<text x="392.50" y="145.20" font-size="7.7" text-anchor="end" textLength="15.00" lengthAdjust="spacingAndGlyphs" fill="#1e1e1e" stroke="#1e1e1e" stroke-width="0.17">CKD</text>
<line x1="457.65" y1="142.80" x2="464.90" y2="142.80" stroke="#c4001f" stroke-width="1.3" stroke-opacity="0.7"/>
<circle cx="457.65" cy="142.80" r="1.3" fill="#c4001f"/>
<circle cx="464.90" cy="142.80" r="1.3" fill="#c4001f"/>
<line x1="461.00" y1="140.00" x2="461.00" y2="145.60" stroke="#c4001f" stroke-width="1.15"/>
<ellipse cx="461.00" cy="142.80" rx="0.9" ry="1.0" fill="#c4001f"/>
<line x1="395.00" y1="151.70" x2="398.50" y2="151.70" stroke="#222" stroke-width="1.0"/>
<text x="392.50" y="154.10" font-size="7.7" text-anchor="end" textLength="32.10" lengthAdjust="spacingAndGlyphs" fill="#1e1e1e" stroke="#1e1e1e" stroke-width="0.17">Fatty liver</text>
<line x1="472.75" y1="151.70" x2="499.70" y2="151.70" stroke="#c4001f" stroke-width="1.3" stroke-opacity="0.7"/>
<circle cx="472.75" cy="151.70" r="1.3" fill="#c4001f"/>
<circle cx="499.70" cy="151.70" r="1.3" fill="#c4001f"/>
<line x1="485.00" y1="148.90" x2="485.00" y2="154.50" stroke="#c4001f" stroke-width="1.15"/>
<ellipse cx="485.00" cy="151.70" rx="0.9" ry="1.0" fill="#c4001f"/>
<line x1="395.00" y1="166.60" x2="398.50" y2="166.60" stroke="#222" stroke-width="1.0"/>
<text x="392.50" y="169.00" font-size="7.7" text-anchor="end" textLength="16.70" lengthAdjust="spacingAndGlyphs" fill="#1e1e1e" stroke="#1e1e1e" stroke-width="0.17">Gout</text>
<line x1="457.40" y1="166.60" x2="466.60" y2="166.60" stroke="#c4001f" stroke-width="1.3" stroke-opacity="0.7"/>
<circle cx="457.40" cy="166.60" r="1.3" fill="#c4001f"/>
<circle cx="466.60" cy="166.60" r="1.3" fill="#c4001f"/>
<line x1="461.60" y1="163.80" x2="461.60" y2="169.40" stroke="#c4001f" stroke-width="1.15"/>
<ellipse cx="461.60" cy="166.60" rx="0.9" ry="1.0" fill="#c4001f"/>
<line x1="395.00" y1="175.20" x2="398.50" y2="175.20" stroke="#222" stroke-width="1.0"/>
<text x="392.50" y="177.60" font-size="7.7" text-anchor="end" textLength="45.10" lengthAdjust="spacingAndGlyphs" fill="#1e1e1e" stroke="#1e1e1e" stroke-width="0.17">Osteoarthritis</text>
<line x1="446.00" y1="175.20" x2="450.20" y2="175.20" stroke="#c4001f" stroke-width="1.3" stroke-opacity="0.7"/>
<circle cx="446.00" cy="175.20" r="1.3" fill="#c4001f"/>
<circle cx="450.20" cy="175.20" r="1.3" fill="#c4001f"/>
<line x1="448.20" y1="172.40" x2="448.20" y2="178.00" stroke="#c4001f" stroke-width="1.15"/>
<ellipse cx="448.20" cy="175.20" rx="0.9" ry="1.0" fill="#c4001f"/>
<line x1="395.00" y1="184.00" x2="398.50" y2="184.00" stroke="#222" stroke-width="1.0"/>
<text x="392.50" y="186.40" font-size="7.7" text-anchor="end" textLength="44.20" lengthAdjust="spacingAndGlyphs" fill="#1e1e1e" stroke="#1e1e1e" stroke-width="0.17">Osteoporosis</text>
<line x1="441.00" y1="184.00" x2="446.00" y2="184.00" stroke="#c4001f" stroke-width="1.3" stroke-opacity="0.7"/>
<circle cx="441.00" cy="184.00" r="1.3" fill="#c4001f"/>
<circle cx="446.00" cy="184.00" r="1.3" fill="#c4001f"/>
<line x1="443.30" y1="181.20" x2="443.30" y2="186.80" stroke="#c4001f" stroke-width="1.15"/>
<ellipse cx="443.30" cy="184.00" rx="0.9" ry="1.0" fill="#c4001f"/>
<line x1="395.00" y1="192.85" x2="398.50" y2="192.85" stroke="#222" stroke-width="1.0"/>
<text x="392.50" y="195.25" font-size="7.7" text-anchor="end" textLength="9.70" lengthAdjust="spacingAndGlyphs" fill="#1e1e1e" stroke="#1e1e1e" stroke-width="0.17">RA</text>
<line x1="458.30" y1="192.85" x2="471.00" y2="192.85" stroke="#c4001f" stroke-width="1.3" stroke-opacity="0.7"/>
<circle cx="458.30" cy="192.85" r="1.3" fill="#c4001f"/>
<circle cx="471.00" cy="192.85" r="1.3" fill="#c4001f"/>
<line x1="464.50" y1="190.05" x2="464.50" y2="195.65" stroke="#c4001f" stroke-width="1.15"/>
<ellipse cx="464.50" cy="192.85" rx="0.9" ry="1.0" fill="#c4001f"/>
<line x1="395.00" y1="207.50" x2="398.50" y2="207.50" stroke="#222" stroke-width="1.0"/>
<text x="392.50" y="209.90" font-size="7.7" text-anchor="end" textLength="33.00" lengthAdjust="spacingAndGlyphs" fill="#1e1e1e" stroke="#1e1e1e" stroke-width="0.17">Alzheimer</text>
<line x1="412.50" y1="207.50" x2="417.50" y2="207.50" stroke="#c4001f" stroke-width="1.3" stroke-opacity="0.7"/>
<circle cx="412.50" cy="207.50" r="1.3" fill="#c4001f"/>
<circle cx="417.50" cy="207.50" r="1.3" fill="#c4001f"/>
<line x1="414.80" y1="204.70" x2="414.80" y2="210.30" stroke="#c4001f" stroke-width="1.15"/>
<ellipse cx="414.80" cy="207.50" rx="0.9" ry="1.0" fill="#c4001f"/>
<line x1="395.00" y1="216.10" x2="398.50" y2="216.10" stroke="#222" stroke-width="1.0"/>
<text x="392.50" y="218.50" font-size="7.7" text-anchor="end" textLength="72.70" lengthAdjust="spacingAndGlyphs" fill="#1e1e1e" stroke="#1e1e1e" stroke-width="0.17">Macular degeneration</text>
<line x1="437.00" y1="216.10" x2="444.30" y2="216.10" stroke="#c4001f" stroke-width="1.3" stroke-opacity="0.7"/>
<circle cx="437.00" cy="216.10" r="1.3" fill="#c4001f"/>
<circle cx="444.30" cy="216.10" r="1.3" fill="#c4001f"/>
<line x1="440.20" y1="213.30" x2="440.20" y2="218.90" stroke="#c4001f" stroke-width="1.15"/>
<ellipse cx="440.20" cy="216.10" rx="0.9" ry="1.0" fill="#c4001f"/>
<line x1="395.00" y1="224.70" x2="398.50" y2="224.70" stroke="#222" stroke-width="1.0"/>
<text x="392.50" y="227.10" font-size="7.7" text-anchor="end" textLength="31.90" lengthAdjust="spacingAndGlyphs" fill="#1e1e1e" stroke="#1e1e1e" stroke-width="0.17">Parkinson</text>
<line x1="421.00" y1="224.70" x2="428.20" y2="224.70" stroke="#c4001f" stroke-width="1.3" stroke-opacity="0.7"/>
<circle cx="421.00" cy="224.70" r="1.3" fill="#c4001f"/>
<circle cx="428.20" cy="224.70" r="1.3" fill="#c4001f"/>
<line x1="424.50" y1="221.90" x2="424.50" y2="227.50" stroke="#c4001f" stroke-width="1.15"/>
<ellipse cx="424.50" cy="224.70" rx="0.9" ry="1.0" fill="#c4001f"/>
<line x1="395.00" y1="233.80" x2="398.50" y2="233.80" stroke="#222" stroke-width="1.0"/>
<text x="392.50" y="236.20" font-size="7.7" text-anchor="end" textLength="10.90" lengthAdjust="spacingAndGlyphs" fill="#1e1e1e" stroke="#1e1e1e" stroke-width="0.17">MS</text>
<line x1="414.10" y1="233.80" x2="437.70" y2="233.80" stroke="#c4001f" stroke-width="1.3" stroke-opacity="0.7"/>
<circle cx="414.10" cy="233.80" r="1.3" fill="#c4001f"/>
<circle cx="437.70" cy="233.80" r="1.3" fill="#c4001f"/>
<line x1="423.90" y1="231.00" x2="423.90" y2="236.60" stroke="#c4001f" stroke-width="1.15"/>
<ellipse cx="423.90" cy="233.80" rx="0.9" ry="1.0" fill="#c4001f"/>
<line x1="395.00" y1="242.50" x2="398.50" y2="242.50" stroke="#222" stroke-width="1.0"/>
<text x="392.50" y="244.90" font-size="7.7" text-anchor="end" textLength="12.60" lengthAdjust="spacingAndGlyphs" fill="#1e1e1e" stroke="#1e1e1e" stroke-width="0.17">ALS</text>
<line x1="407.10" y1="242.50" x2="453.90" y2="242.50" stroke="#c4001f" stroke-width="1.3" stroke-opacity="0.7"/>
<circle cx="407.10" cy="242.50" r="1.3" fill="#c4001f"/>
<circle cx="453.90" cy="242.50" r="1.3" fill="#c4001f"/>
<line x1="421.70" y1="239.70" x2="421.70" y2="245.30" stroke="#c4001f" stroke-width="1.15"/>
<ellipse cx="421.70" cy="242.50" rx="0.9" ry="1.0" fill="#c4001f"/>
<line x1="395.00" y1="251.30" x2="398.50" y2="251.30" stroke="#222" stroke-width="1.0"/>
<text x="392.50" y="253.70" font-size="7.7" text-anchor="end" textLength="52.70" lengthAdjust="spacingAndGlyphs" fill="#1e1e1e" stroke="#1e1e1e" stroke-width="0.17">Other dementia</text>
<line x1="420.80" y1="251.30" x2="425.90" y2="251.30" stroke="#c4001f" stroke-width="1.3" stroke-opacity="0.7"/>
<circle cx="420.80" cy="251.30" r="1.3" fill="#c4001f"/>
<circle cx="425.90" cy="251.30" r="1.3" fill="#c4001f"/>
<line x1="423.20" y1="248.50" x2="423.20" y2="254.10" stroke="#c4001f" stroke-width="1.15"/>
<ellipse cx="423.20" cy="251.30" rx="0.9" ry="1.0" fill="#c4001f"/>
<g transform="translate(313.2,65.47) rotate(-90)">
<text x="0.00" y="0.00" font-size="7.6" text-anchor="middle" textLength="38.50" lengthAdjust="spacingAndGlyphs" fill="#222" stroke="#222" stroke-width="0.1">Cardiovascular</text>
<line x1="-19.25" y1="0.55" x2="19.25" y2="0.55" stroke="#444" stroke-width="0.65"/>
</g>
<g transform="translate(313.2,102.15) rotate(-90)">
<text x="0.00" y="0.00" font-size="7.6" text-anchor="middle" textLength="28.50" lengthAdjust="spacingAndGlyphs" fill="#222" stroke="#222" stroke-width="0.1">Pulmonary</text>
<line x1="-14.25" y1="0.55" x2="14.25" y2="0.55" stroke="#444" stroke-width="0.65"/>
</g>
<g transform="translate(313.2,138.60) rotate(-90)">
<text x="0.00" y="0.00" font-size="7.6" text-anchor="middle" textLength="26.00" lengthAdjust="spacingAndGlyphs" fill="#222" stroke="#222" stroke-width="0.1">Metabolic</text>
<line x1="-13.00" y1="0.55" x2="13.00" y2="0.55" stroke="#444" stroke-width="0.65"/>
</g>
<g transform="translate(313.2,179.72) rotate(-90)">
<text x="0.00" y="0.00" font-size="7.6" text-anchor="middle" textLength="37.20" lengthAdjust="spacingAndGlyphs" fill="#222" stroke="#222" stroke-width="0.1">Bone and joint</text>
<line x1="-18.60" y1="0.55" x2="18.60" y2="0.55" stroke="#444" stroke-width="0.65"/>
</g>
<g transform="translate(313.2,229.40) rotate(-90)">
<text x="0.00" y="0.00" font-size="7.6" text-anchor="middle" textLength="29.80" lengthAdjust="spacingAndGlyphs" fill="#222" stroke="#222" stroke-width="0.1">Neurologic</text>
<line x1="-14.90" y1="0.55" x2="14.90" y2="0.55" stroke="#444" stroke-width="0.65"/>
</g>
<text x="307.10" y="326.80" font-size="11.6" font-weight="bold" fill="#111">D</text>
<line x1="434.92" y1="338.33" x2="434.92" y2="551.30" stroke="#e3e3e3" stroke-width="1.5" stroke-dasharray="1.7 0.9"/>
<line x1="398.00" y1="380.88" x2="508.50" y2="380.88" stroke="#4a4a4a" stroke-width="1.4"/>
<line x1="398.00" y1="413.07" x2="508.50" y2="413.07" stroke="#4a4a4a" stroke-width="1.4"/>
<line x1="398.00" y1="453.82" x2="508.50" y2="453.82" stroke="#4a4a4a" stroke-width="1.4"/>
<line x1="398.00" y1="494.78" x2="508.50" y2="494.78" stroke="#4a4a4a" stroke-width="1.4"/>
<line x1="398.55" y1="338.33" x2="398.55" y2="554.50" stroke="#111" stroke-width="1.1"/>
<line x1="398.00" y1="551.40" x2="512.50" y2="551.40" stroke="#000" stroke-width="1.25"/>
<line x1="398.25" y1="551.30" x2="398.25" y2="554.50" stroke="#1a1a1a" stroke-width="1.0"/>
<line x1="416.58" y1="551.30" x2="416.58" y2="553.50" stroke="#1a1a1a" stroke-width="1.0"/>
<line x1="434.92" y1="551.30" x2="434.92" y2="554.50" stroke="#1a1a1a" stroke-width="1.0"/>
<line x1="453.25" y1="551.30" x2="453.25" y2="553.50" stroke="#1a1a1a" stroke-width="1.0"/>
<line x1="471.59" y1="551.30" x2="471.59" y2="554.50" stroke="#1a1a1a" stroke-width="1.0"/>
<line x1="489.93" y1="551.30" x2="489.93" y2="553.50" stroke="#1a1a1a" stroke-width="1.0"/>
<line x1="508.26" y1="551.30" x2="508.26" y2="554.50" stroke="#1a1a1a" stroke-width="1.0"/>
<text x="398.25" y="563.60" font-size="8.8" text-anchor="middle" textLength="4.60" lengthAdjust="spacingAndGlyphs" fill="#1e1e1e" stroke="#1e1e1e" stroke-width="0.17">0</text>
<text x="434.92" y="563.60" font-size="8.8" text-anchor="middle" textLength="4.60" lengthAdjust="spacingAndGlyphs" fill="#1e1e1e" stroke="#1e1e1e" stroke-width="0.17">1</text>
<text x="471.59" y="563.60" font-size="8.8" text-anchor="middle" textLength="4.60" lengthAdjust="spacingAndGlyphs" fill="#1e1e1e" stroke="#1e1e1e" stroke-width="0.17">2</text>
<text x="508.26" y="563.60" font-size="8.8" text-anchor="middle" textLength="4.60" lengthAdjust="spacingAndGlyphs" fill="#1e1e1e" stroke="#1e1e1e" stroke-width="0.17">3</text>
<text x="453.40" y="577.10" font-size="11.2" text-anchor="middle" textLength="34.20" lengthAdjust="spacingAndGlyphs" fill="#1e1e1e" stroke="#1e1e1e" stroke-width="0.17">Odds ratio</text>
<line x1="395.00" y1="347.30" x2="398.50" y2="347.30" stroke="#222" stroke-width="1.0"/>
<text x="392.50" y="349.70" font-size="7.7" text-anchor="end" textLength="8.50" lengthAdjust="spacingAndGlyphs" fill="#1e1e1e" stroke="#1e1e1e" stroke-width="0.17">MI</text>
<line x1="438.00" y1="347.30" x2="450.10" y2="347.30" stroke="#c4001f" stroke-width="1.3" stroke-opacity="0.7"/>
<circle cx="438.00" cy="347.30" r="1.3" fill="#c4001f"/>
<circle cx="450.10" cy="347.30" r="1.3" fill="#c4001f"/>
<line x1="443.40" y1="344.50" x2="443.40" y2="350.10" stroke="#c4001f" stroke-width="1.15"/>
<ellipse cx="443.40" cy="347.30" rx="0.9" ry="1.0" fill="#c4001f"/>
<line x1="395.00" y1="356.02" x2="398.50" y2="356.02" stroke="#222" stroke-width="1.0"/>
<text x="392.50" y="358.42" font-size="7.7" text-anchor="end" textLength="50.40" lengthAdjust="spacingAndGlyphs" fill="#1e1e1e" stroke="#1e1e1e" stroke-width="0.17">Atherosclerosis</text>
<line x1="441.60" y1="356.02" x2="445.30" y2="356.02" stroke="#c4001f" stroke-width="1.3" stroke-opacity="0.7"/>
<circle cx="441.60" cy="356.02" r="1.3" fill="#c4001f"/>
<circle cx="445.30" cy="356.02" r="1.3" fill="#c4001f"/>
<line x1="443.30" y1="353.22" x2="443.30" y2="358.82" stroke="#c4001f" stroke-width="1.15"/>
<ellipse cx="443.30" cy="356.02" rx="0.9" ry="1.0" fill="#c4001f"/>
<line x1="395.00" y1="364.94" x2="398.50" y2="364.94" stroke="#222" stroke-width="1.0"/>
<text x="392.50" y="367.34" font-size="7.7" text-anchor="end" textLength="54.80" lengthAdjust="spacingAndGlyphs" fill="#1e1e1e" stroke="#1e1e1e" stroke-width="0.17">Cardiomyopathy</text>
<line x1="448.20" y1="364.94" x2="453.85" y2="364.94" stroke="#c4001f" stroke-width="1.3" stroke-opacity="0.7"/>
<circle cx="448.20" cy="364.94" r="1.3" fill="#c4001f"/>
<circle cx="453.85" cy="364.94" r="1.3" fill="#c4001f"/>
<line x1="450.90" y1="362.14" x2="450.90" y2="367.74" stroke="#c4001f" stroke-width="1.15"/>
<ellipse cx="450.90" cy="364.94" rx="0.9" ry="1.0" fill="#c4001f"/>
<line x1="395.00" y1="373.56" x2="398.50" y2="373.56" stroke="#222" stroke-width="1.0"/>
<text x="392.50" y="375.96" font-size="7.7" text-anchor="end" textLength="14.40" lengthAdjust="spacingAndGlyphs" fill="#1e1e1e" stroke="#1e1e1e" stroke-width="0.17">CVA</text>
<line x1="431.75" y1="373.56" x2="436.65" y2="373.56" stroke="#c4001f" stroke-width="1.3" stroke-opacity="0.7"/>
<circle cx="431.75" cy="373.56" r="1.3" fill="#c4001f"/>
<circle cx="436.65" cy="373.56" r="1.3" fill="#c4001f"/>
<line x1="433.80" y1="370.76" x2="433.80" y2="376.36" stroke="#c4001f" stroke-width="1.15"/>
<ellipse cx="433.80" cy="373.56" rx="0.9" ry="1.0" fill="#c4001f"/>
<line x1="395.00" y1="388.35" x2="398.50" y2="388.35" stroke="#222" stroke-width="1.0"/>
<text x="392.50" y="390.75" font-size="7.7" text-anchor="end" textLength="20.90" lengthAdjust="spacingAndGlyphs" fill="#1e1e1e" stroke="#1e1e1e" stroke-width="0.17">COPD</text>
<line x1="432.10" y1="388.35" x2="436.20" y2="388.35" stroke="#c4001f" stroke-width="1.3" stroke-opacity="0.7"/>
<circle cx="432.10" cy="388.35" r="1.3" fill="#c4001f"/>
<circle cx="436.20" cy="388.35" r="1.3" fill="#c4001f"/>
<line x1="434.30" y1="385.55" x2="434.30" y2="391.15" stroke="#c4001f" stroke-width="1.15"/>
<ellipse cx="434.30" cy="388.35" rx="0.9" ry="1.0" fill="#c4001f"/>
<line x1="395.00" y1="397.12" x2="398.50" y2="397.12" stroke="#222" stroke-width="1.0"/>
<text x="392.50" y="399.52" font-size="7.7" text-anchor="end" textLength="24.60" lengthAdjust="spacingAndGlyphs" fill="#1e1e1e" stroke="#1e1e1e" stroke-width="0.17">Asthma</text>
<line x1="433.10" y1="397.12" x2="438.60" y2="397.12" stroke="#c4001f" stroke-width="1.3" stroke-opacity="0.7"/>
<circle cx="433.10" cy="397.12" r="1.3" fill="#c4001f"/>
<circle cx="438.60" cy="397.12" r="1.3" fill="#c4001f"/>
<line x1="435.90" y1="394.32" x2="435.90" y2="399.92" stroke="#c4001f" stroke-width="1.15"/>
<ellipse cx="435.90" cy="397.12" rx="0.9" ry="1.0" fill="#c4001f"/>
<line x1="395.00" y1="405.59" x2="398.50" y2="405.59" stroke="#222" stroke-width="1.0"/>
<text x="392.50" y="407.99" font-size="7.7" text-anchor="end" textLength="32.30" lengthAdjust="spacingAndGlyphs" fill="#1e1e1e" stroke="#1e1e1e" stroke-width="0.17">Bronchitis</text>
<line x1="429.30" y1="405.59" x2="434.80" y2="405.59" stroke="#c4001f" stroke-width="1.3" stroke-opacity="0.7"/>
<circle cx="429.30" cy="405.59" r="1.3" fill="#c4001f"/>
<circle cx="434.80" cy="405.59" r="1.3" fill="#c4001f"/>
<line x1="431.90" y1="402.79" x2="431.90" y2="408.39" stroke="#c4001f" stroke-width="1.15"/>
<ellipse cx="431.90" cy="405.59" rx="0.9" ry="1.0" fill="#c4001f"/>
<line x1="395.00" y1="420.24" x2="398.50" y2="420.24" stroke="#222" stroke-width="1.0"/>
<text x="392.50" y="422.64" font-size="7.7" text-anchor="end" textLength="20.10" lengthAdjust="spacingAndGlyphs" fill="#1e1e1e" stroke="#1e1e1e" stroke-width="0.17">T2DM</text>
<line x1="430.00" y1="420.24" x2="434.10" y2="420.24" stroke="#c4001f" stroke-width="1.3" stroke-opacity="0.7"/>
<circle cx="430.00" cy="420.24" r="1.3" fill="#c4001f"/>
<circle cx="434.10" cy="420.24" r="1.3" fill="#c4001f"/>
<line x1="432.40" y1="417.44" x2="432.40" y2="423.04" stroke="#c4001f" stroke-width="1.15"/>
<ellipse cx="432.40" cy="420.24" rx="0.9" ry="1.0" fill="#c4001f"/>
<line x1="395.00" y1="429.01" x2="398.50" y2="429.01" stroke="#222" stroke-width="1.0"/>
<text x="392.50" y="431.41" font-size="7.7" text-anchor="end" textLength="55.60" lengthAdjust="spacingAndGlyphs" fill="#1e1e1e" stroke="#1e1e1e" stroke-width="0.17">Insulin resistance</text>
<line x1="428.00" y1="429.01" x2="444.00" y2="429.01" stroke="#c4001f" stroke-width="1.3" stroke-opacity="0.7"/>
<circle cx="428.00" cy="429.01" r="1.3" fill="#c4001f"/>
<circle cx="444.00" cy="429.01" r="1.3" fill="#c4001f"/>
<line x1="435.25" y1="426.21" x2="435.25" y2="431.81" stroke="#c4001f" stroke-width="1.15"/>
<ellipse cx="435.25" cy="429.01" rx="0.9" ry="1.0" fill="#c4001f"/>
<line x1="395.00" y1="437.48" x2="398.50" y2="437.48" stroke="#222" stroke-width="1.0"/>
<text x="392.50" y="439.88" font-size="7.7" text-anchor="end" textLength="15.00" lengthAdjust="spacingAndGlyphs" fill="#1e1e1e" stroke="#1e1e1e" stroke-width="0.17">CKD</text>
<line x1="449.20" y1="437.48" x2="455.25" y2="437.48" stroke="#c4001f" stroke-width="1.3" stroke-opacity="0.7"/>
<circle cx="449.20" cy="437.48" r="1.3" fill="#c4001f"/>
<circle cx="455.25" cy="437.48" r="1.3" fill="#c4001f"/>
<line x1="452.20" y1="434.68" x2="452.20" y2="440.28" stroke="#c4001f" stroke-width="1.15"/>
<ellipse cx="452.20" cy="437.48" rx="0.9" ry="1.0" fill="#c4001f"/>
<line x1="395.00" y1="446.35" x2="398.50" y2="446.35" stroke="#222" stroke-width="1.0"/>
<text x="392.50" y="448.75" font-size="7.7" text-anchor="end" textLength="32.10" lengthAdjust="spacingAndGlyphs" fill="#1e1e1e" stroke="#1e1e1e" stroke-width="0.17">Fatty liver</text>
<line x1="452.10" y1="446.35" x2="470.00" y2="446.35" stroke="#c4001f" stroke-width="1.3" stroke-opacity="0.7"/>
<circle cx="452.10" cy="446.35" r="1.3" fill="#c4001f"/>
<circle cx="470.00" cy="446.35" r="1.3" fill="#c4001f"/>
<line x1="460.25" y1="443.55" x2="460.25" y2="449.15" stroke="#c4001f" stroke-width="1.15"/>
<ellipse cx="460.25" cy="446.35" rx="0.9" ry="1.0" fill="#c4001f"/>
<line x1="395.00" y1="461.20" x2="398.50" y2="461.20" stroke="#222" stroke-width="1.0"/>
<text x="392.50" y="463.60" font-size="7.7" text-anchor="end" textLength="16.70" lengthAdjust="spacingAndGlyphs" fill="#1e1e1e" stroke="#1e1e1e" stroke-width="0.17">Gout</text>
<line x1="449.70" y1="461.20" x2="457.50" y2="461.20" stroke="#c4001f" stroke-width="1.3" stroke-opacity="0.7"/>
<circle cx="449.70" cy="461.20" r="1.3" fill="#c4001f"/>
<circle cx="457.50" cy="461.20" r="1.3" fill="#c4001f"/>
<line x1="453.50" y1="458.40" x2="453.50" y2="464.00" stroke="#c4001f" stroke-width="1.15"/>
<ellipse cx="453.50" cy="461.20" rx="0.9" ry="1.0" fill="#c4001f"/>
<line x1="395.00" y1="469.77" x2="398.50" y2="469.77" stroke="#222" stroke-width="1.0"/>
<text x="392.50" y="472.17" font-size="7.7" text-anchor="end" textLength="45.10" lengthAdjust="spacingAndGlyphs" fill="#1e1e1e" stroke="#1e1e1e" stroke-width="0.17">Osteoarthritis</text>
<line x1="442.50" y1="469.77" x2="446.80" y2="469.77" stroke="#c4001f" stroke-width="1.3" stroke-opacity="0.7"/>
<circle cx="442.50" cy="469.77" r="1.3" fill="#c4001f"/>
<circle cx="446.80" cy="469.77" r="1.3" fill="#c4001f"/>
<line x1="444.50" y1="466.97" x2="444.50" y2="472.57" stroke="#c4001f" stroke-width="1.15"/>
<ellipse cx="444.50" cy="469.77" rx="0.9" ry="1.0" fill="#c4001f"/>
<line x1="395.00" y1="478.54" x2="398.50" y2="478.54" stroke="#222" stroke-width="1.0"/>
<text x="392.50" y="480.94" font-size="7.7" text-anchor="end" textLength="44.20" lengthAdjust="spacingAndGlyphs" fill="#1e1e1e" stroke="#1e1e1e" stroke-width="0.17">Osteoporosis</text>
<line x1="441.80" y1="478.54" x2="447.20" y2="478.54" stroke="#c4001f" stroke-width="1.3" stroke-opacity="0.7"/>
<circle cx="441.80" cy="478.54" r="1.3" fill="#c4001f"/>
<circle cx="447.20" cy="478.54" r="1.3" fill="#c4001f"/>
<line x1="444.30" y1="475.74" x2="444.30" y2="481.34" stroke="#c4001f" stroke-width="1.15"/>
<ellipse cx="444.30" cy="478.54" rx="0.9" ry="1.0" fill="#c4001f"/>
<line x1="395.00" y1="487.36" x2="398.50" y2="487.36" stroke="#222" stroke-width="1.0"/>
<text x="392.50" y="489.76" font-size="7.7" text-anchor="end" textLength="9.70" lengthAdjust="spacingAndGlyphs" fill="#1e1e1e" stroke="#1e1e1e" stroke-width="0.17">RA</text>
<line x1="454.10" y1="487.36" x2="465.10" y2="487.36" stroke="#c4001f" stroke-width="1.3" stroke-opacity="0.7"/>
<circle cx="454.10" cy="487.36" r="1.3" fill="#c4001f"/>
<circle cx="465.10" cy="487.36" r="1.3" fill="#c4001f"/>
<line x1="459.20" y1="484.56" x2="459.20" y2="490.16" stroke="#c4001f" stroke-width="1.15"/>
<ellipse cx="459.20" cy="487.36" rx="0.9" ry="1.0" fill="#c4001f"/>
<line x1="395.00" y1="501.96" x2="398.50" y2="501.96" stroke="#222" stroke-width="1.0"/>
<text x="392.50" y="504.36" font-size="7.7" text-anchor="end" textLength="33.00" lengthAdjust="spacingAndGlyphs" fill="#1e1e1e" stroke="#1e1e1e" stroke-width="0.17">Alzheimer</text>
<line x1="423.30" y1="501.96" x2="428.00" y2="501.96" stroke="#c4001f" stroke-width="1.3" stroke-opacity="0.7"/>
<circle cx="423.30" cy="501.96" r="1.3" fill="#c4001f"/>
<circle cx="428.00" cy="501.96" r="1.3" fill="#c4001f"/>
<line x1="426.50" y1="499.16" x2="426.50" y2="504.76" stroke="#c4001f" stroke-width="1.15"/>
<ellipse cx="426.50" cy="501.96" rx="0.9" ry="1.0" fill="#c4001f"/>
<line x1="395.00" y1="510.53" x2="398.50" y2="510.53" stroke="#222" stroke-width="1.0"/>
<text x="392.50" y="512.93" font-size="7.7" text-anchor="end" textLength="72.70" lengthAdjust="spacingAndGlyphs" fill="#1e1e1e" stroke="#1e1e1e" stroke-width="0.17">Macular degeneration</text>
<line x1="433.70" y1="510.53" x2="440.60" y2="510.53" stroke="#c4001f" stroke-width="1.3" stroke-opacity="0.7"/>
<circle cx="433.70" cy="510.53" r="1.3" fill="#c4001f"/>
<circle cx="440.60" cy="510.53" r="1.3" fill="#c4001f"/>
<line x1="437.00" y1="507.73" x2="437.00" y2="513.33" stroke="#c4001f" stroke-width="1.15"/>
<ellipse cx="437.00" cy="510.53" rx="0.9" ry="1.0" fill="#c4001f"/>
<line x1="395.00" y1="519.10" x2="398.50" y2="519.10" stroke="#222" stroke-width="1.0"/>
<text x="392.50" y="521.50" font-size="7.7" text-anchor="end" textLength="31.90" lengthAdjust="spacingAndGlyphs" fill="#1e1e1e" stroke="#1e1e1e" stroke-width="0.17">Parkinson</text>
<line x1="427.40" y1="519.10" x2="436.70" y2="519.10" stroke="#c4001f" stroke-width="1.3" stroke-opacity="0.7"/>
<circle cx="427.40" cy="519.10" r="1.3" fill="#c4001f"/>
<circle cx="436.70" cy="519.10" r="1.3" fill="#c4001f"/>
<line x1="431.90" y1="516.30" x2="431.90" y2="521.90" stroke="#c4001f" stroke-width="1.15"/>
<ellipse cx="431.90" cy="519.10" rx="0.9" ry="1.0" fill="#c4001f"/>
<line x1="395.00" y1="528.16" x2="398.50" y2="528.16" stroke="#222" stroke-width="1.0"/>
<text x="392.50" y="530.56" font-size="7.7" text-anchor="end" textLength="10.90" lengthAdjust="spacingAndGlyphs" fill="#1e1e1e" stroke="#1e1e1e" stroke-width="0.17">MS</text>
<line x1="414.80" y1="528.16" x2="439.70" y2="528.16" stroke="#c4001f" stroke-width="1.3" stroke-opacity="0.7"/>
<circle cx="414.80" cy="528.16" r="1.3" fill="#c4001f"/>
<circle cx="439.70" cy="528.16" r="1.3" fill="#c4001f"/>
<line x1="424.50" y1="525.36" x2="424.50" y2="530.96" stroke="#c4001f" stroke-width="1.15"/>
<ellipse cx="424.50" cy="528.16" rx="0.9" ry="1.0" fill="#c4001f"/>
<line x1="395.00" y1="536.83" x2="398.50" y2="536.83" stroke="#222" stroke-width="1.0"/>
<text x="392.50" y="539.23" font-size="7.7" text-anchor="end" textLength="12.60" lengthAdjust="spacingAndGlyphs" fill="#1e1e1e" stroke="#1e1e1e" stroke-width="0.17">ALS</text>
<line x1="409.10" y1="536.83" x2="469.70" y2="536.83" stroke="#c4001f" stroke-width="1.3" stroke-opacity="0.7"/>
<circle cx="409.10" cy="536.83" r="1.3" fill="#c4001f"/>
<circle cx="469.70" cy="536.83" r="1.3" fill="#c4001f"/>
<line x1="427.55" y1="534.03" x2="427.55" y2="539.63" stroke="#c4001f" stroke-width="1.15"/>
<ellipse cx="427.55" cy="536.83" rx="0.9" ry="1.0" fill="#c4001f"/>
<line x1="395.00" y1="545.60" x2="398.50" y2="545.60" stroke="#222" stroke-width="1.0"/>
<text x="392.50" y="548.00" font-size="7.7" text-anchor="end" textLength="52.70" lengthAdjust="spacingAndGlyphs" fill="#1e1e1e" stroke="#1e1e1e" stroke-width="0.17">Other dementia</text>
<line x1="429.60" y1="545.60" x2="435.20" y2="545.60" stroke="#c4001f" stroke-width="1.3" stroke-opacity="0.7"/>
<circle cx="429.60" cy="545.60" r="1.3" fill="#c4001f"/>
<circle cx="435.20" cy="545.60" r="1.3" fill="#c4001f"/>
<line x1="432.30" y1="542.80" x2="432.30" y2="548.40" stroke="#c4001f" stroke-width="1.15"/>
<ellipse cx="432.30" cy="545.60" rx="0.9" ry="1.0" fill="#c4001f"/>
<g transform="translate(313.2,360.43) rotate(-90)">
<text x="0.00" y="0.00" font-size="7.6" text-anchor="middle" textLength="38.50" lengthAdjust="spacingAndGlyphs" fill="#222" stroke="#222" stroke-width="0.1">Cardiovascular</text>
<line x1="-19.25" y1="0.55" x2="19.25" y2="0.55" stroke="#444" stroke-width="0.65"/>
</g>
<g transform="translate(313.2,396.97) rotate(-90)">
<text x="0.00" y="0.00" font-size="7.6" text-anchor="middle" textLength="28.50" lengthAdjust="spacingAndGlyphs" fill="#222" stroke="#222" stroke-width="0.1">Pulmonary</text>
<line x1="-14.25" y1="0.55" x2="14.25" y2="0.55" stroke="#444" stroke-width="0.65"/>
</g>
<g transform="translate(313.2,433.30) rotate(-90)">
<text x="0.00" y="0.00" font-size="7.6" text-anchor="middle" textLength="26.00" lengthAdjust="spacingAndGlyphs" fill="#222" stroke="#222" stroke-width="0.1">Metabolic</text>
<line x1="-13.00" y1="0.55" x2="13.00" y2="0.55" stroke="#444" stroke-width="0.65"/>
</g>
<g transform="translate(313.2,474.28) rotate(-90)">
<text x="0.00" y="0.00" font-size="7.6" text-anchor="middle" textLength="37.20" lengthAdjust="spacingAndGlyphs" fill="#222" stroke="#222" stroke-width="0.1">Bone and joint</text>
<line x1="-18.60" y1="0.55" x2="18.60" y2="0.55" stroke="#444" stroke-width="0.65"/>
</g>
<g transform="translate(313.2,523.78) rotate(-90)">
<text x="0.00" y="0.00" font-size="7.6" text-anchor="middle" textLength="29.80" lengthAdjust="spacingAndGlyphs" fill="#222" stroke="#222" stroke-width="0.1">Neurologic</text>
<line x1="-14.90" y1="0.55" x2="14.90" y2="0.55" stroke="#444" stroke-width="0.65"/>
</g>
<rect x="0" y="0" width="520" height="1.1" fill="#000"/>
<rect x="0" y="0" width="1.1" height="584" fill="#000"/>
<rect x="518.75" y="0" width="1.25" height="584" fill="#000"/>
<rect x="0" y="582.6" width="520" height="1.4" fill="#000"/>
</svg>
</body></html>
